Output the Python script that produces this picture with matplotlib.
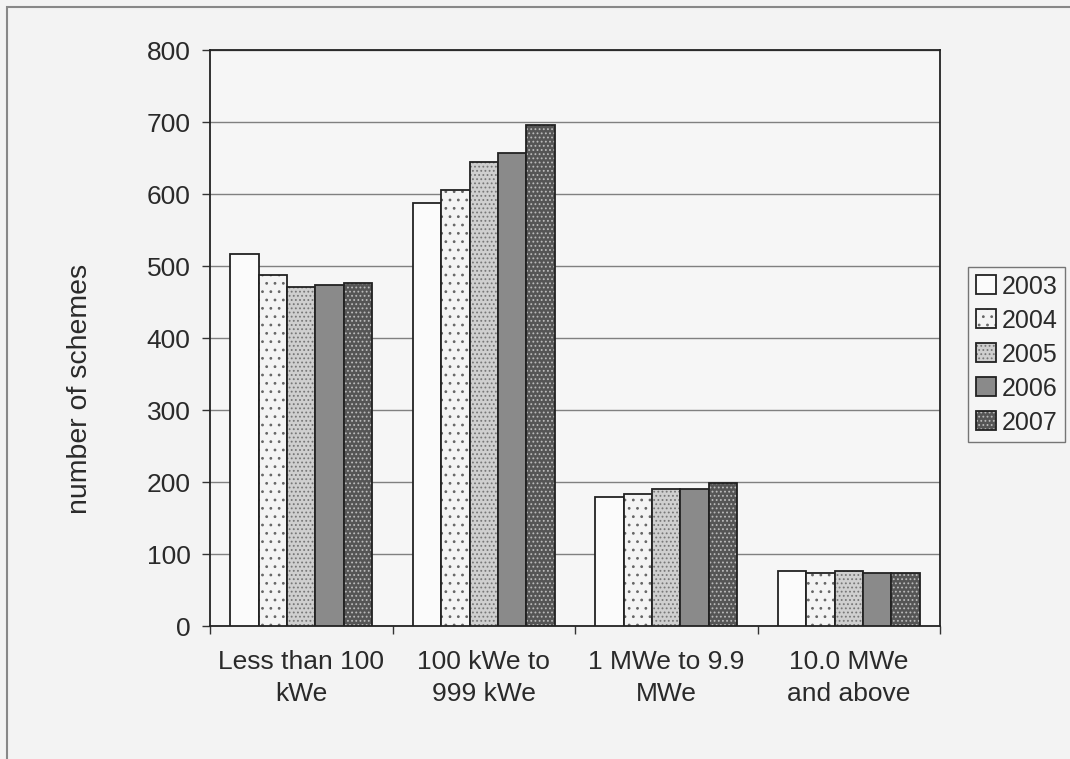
import matplotlib.pyplot as plt
import numpy as np
from matplotlib.patches import Rectangle

categories = ["Less than 100\nkWe", "100 kWe to\n999 kWe", "1 MWe to 9.9\nMWe", "10.0 MWe\nand above"]
years = ["2003", "2004", "2005", "2006", "2007"]
schemes_2003 = [517, 587, 179, 76]
schemes_2004 = [487, 605, 184, 74]
schemes_2005 = [471, 645, 190, 76]
schemes_2006 = [473, 657, 190, 74]
schemes_2007 = [476, 696, 199, 74]
y_ticks = [0, 100, 200, 300, 400, 500, 600, 700, 800]

series = [schemes_2003, schemes_2004, schemes_2005, schemes_2006, schemes_2007]
faces = ["#fbfbfb", "#f4f4f4", "#cfcfcf", "#8a8a8a", "#555555"]
hatches = ["", "..", "....", "", "...."]
hatch_colors = ["#333333", "#666666", "#777777", "#777777", "#bbbbbb"]

plt.rcParams["font.family"] = ["Liberation Sans", "DejaVu Sans"]
plt.rcParams["hatch.linewidth"] = 0.8
text_color = "#2a2a2a"

fig = plt.figure(figsize=(10.70, 7.59), dpi=100, facecolor="#f3f3f3")
fig.patches.append(Rectangle((7 / 1070, -0.01), 1.02, 1 - 7 / 759 + 0.01, transform=fig.transFigure,
                             fill=False, edgecolor="#888888", linewidth=1.5))
ax = fig.add_axes([210 / 1070, 1 - 626 / 759, 730 / 1070, 576 / 759])
ax.set_facecolor("#f6f6f6")

x = np.arange(len(categories))
width = 0.156
for i, values in enumerate(series):
    offset = (i - 2) * width
    bars = ax.bar(x + offset, values, width, color=faces[i], edgecolor="#222222", linewidth=1.3,
                  label=years[i], zorder=3)
    if hatches[i]:
        for bar in bars:
            bar.set_hatch(hatches[i])
            bar._hatch_color = plt.matplotlib.colors.to_rgba(hatch_colors[i])

ax.set_xlim(-0.5, len(categories) - 0.5)
ax.set_ylim(0, 800)
ax.set_yticks(y_ticks)
ax.yaxis.grid(True, color="#808080", linewidth=1.0, zorder=0)
ax.set_xticks(x)
ax.set_xticklabels(categories, fontsize=19, color=text_color, linespacing=1.45)
ax.set_xticks(np.arange(-0.5, len(categories)), minor=True)
ax.tick_params(axis="x", which="major", length=0, pad=17)
ax.tick_params(axis="x", which="minor", length=6, width=1, color="#333333")
ax.tick_params(axis="y", length=6, width=1, color="#333333", labelsize=19, labelcolor=text_color, pad=8)
ax.set_ylabel("number of schemes", fontsize=20.5, color=text_color)
ax.yaxis.set_label_coords(-0.160, 0.411)
for spine in ax.spines.values():
    spine.set_color("#222222")
    spine.set_linewidth(1.3)

leg = fig.legend(loc="upper left", bbox_to_anchor=(968 / 1070, 1 - 267 / 759), fontsize=18,
                 frameon=True, fancybox=False, edgecolor="#555555", facecolor="#f6f6f6",
                 handlelength=0.8, handleheight=0.8, handletextpad=0.25, labelspacing=0.4,
                 borderpad=0.3, borderaxespad=0)
for text in leg.get_texts():
    text.set_color(text_color)

fig.savefig("out.png", dpi=100, facecolor=fig.get_facecolor())
